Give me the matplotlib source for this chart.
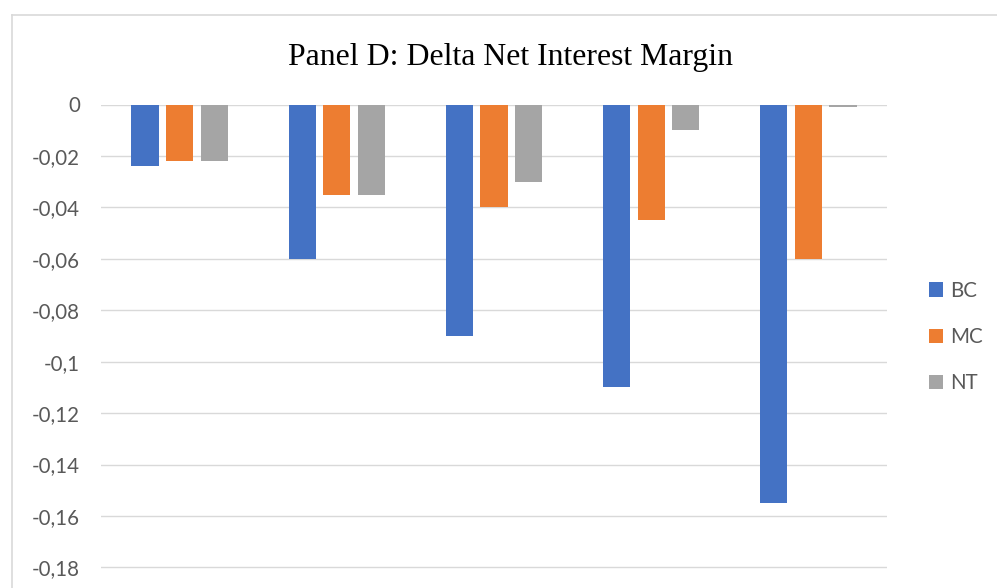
import numpy as np
import matplotlib.pyplot as plt
from matplotlib.lines import Line2D

# values
groups = ['1', '2', '3', '4', '5']
series = ['BC', 'MC', 'NT']
bc = [-0.024, -0.060, -0.090, -0.110, -0.155]
mc = [-0.022, -0.035, -0.040, -0.045, -0.060]
nt = [-0.022, -0.035, -0.030, -0.010, -0.001]
yticks = [0, -0.02, -0.04, -0.06, -0.08, -0.1, -0.12, -0.14, -0.16, -0.18]
colors = ['#4472C4', '#ED7D31', '#A5A5A5']

W, H = 997, 588
fig = plt.figure(figsize=(W / 100, H / 100), dpi=100)
ax = fig.add_axes([101 / W, 0, 786 / W, 1 - 104.5 / H])

x = np.arange(len(groups))
bw = 0.172
off = 0.22
for i, (vals, name) in enumerate(zip([bc, mc, nt], series)):
  ax.bar(x + (i - 1) * off, vals, bw, color=colors[i], label=name, zorder=3)

ax.set_xlim(-0.5, len(groups) - 0.5)
ax.set_ylim(-(H - 104.5) / 2572, 0)
ax.set_xticks([])
ax.set_yticks(yticks)
ax.set_yticklabels([('%g' % t).replace('.', ',') for t in yticks],
                   fontsize=14.8, color='#595959', family='Lato')
ax.tick_params(axis='y', length=0, pad=15)
ax.grid(axis='y', color='#D9D9D9', linewidth=1.0, zorder=0)
for s in ax.spines.values():
  s.set_visible(False)

fig.text(510 / W, 1 - 65 / H, 'Panel D: Delta Net Interest Margin',
         ha='center', va='baseline', fontsize=22.9, family='Liberation Serif')

leg = ax.legend(loc='center left', bbox_to_anchor=(929 / W, 1 - 337 / H),
                bbox_transform=fig.transFigure, frameon=False,
                prop={'family': 'Lato', 'size': 14.8},
                handlelength=0.7, handleheight=0.7, handletextpad=0.35,
                labelspacing=1.28, borderpad=0, borderaxespad=0)
for t in leg.get_texts():
  t.set_color('#595959')

# chart area border (left and top edges visible)
fig.add_artist(Line2D([12 / W, 12 / W], [0, 1 - 14.5 / H], color='#D9D9D9',
                      linewidth=1.2, transform=fig.transFigure))
fig.add_artist(Line2D([12 / W, 1], [1 - 14.5 / H, 1 - 14.5 / H], color='#D9D9D9',
                      linewidth=1.2, transform=fig.transFigure))

fig.savefig('out.png', dpi=100)
